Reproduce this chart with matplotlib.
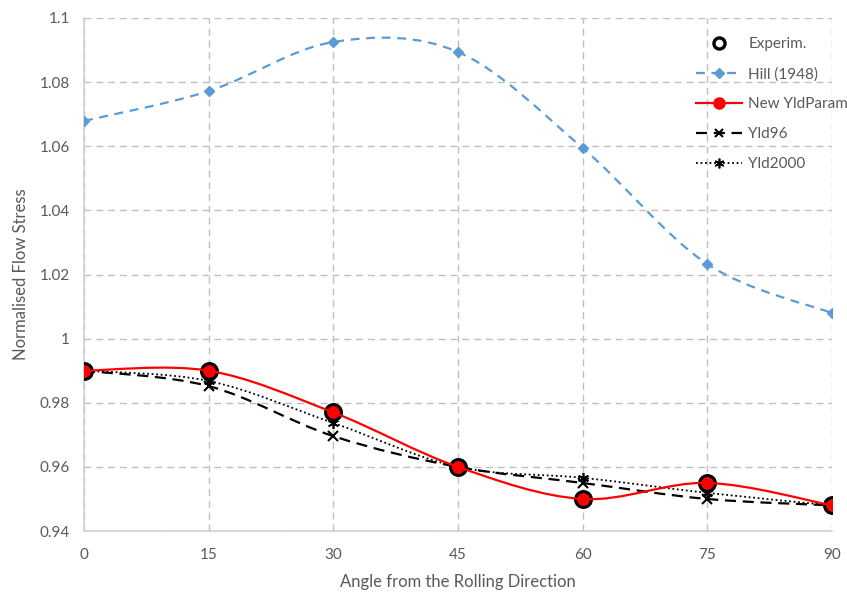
import numpy as np
import matplotlib
matplotlib.use("Agg")
import matplotlib.pyplot as plt
from matplotlib.path import Path
from matplotlib.patches import PathPatch
from matplotlib.lines import Line2D

plt.rcParams.update({
    "font.family": ["Lato", "DejaVu Sans"],
    "font.size": 11,
})

GREY = "#595959"
GRID = "#BFBFBF"
BLUE = "#5B9BD5"
RED = "#FF0000"

angles = [0, 15, 30, 45, 60, 75, 90]
experim = [0.990, 0.990, 0.977, 0.960, 0.950, 0.955, 0.948]
hill = [1.0679, 1.0772, 1.0925, 1.0894, 1.0595, 1.0233, 1.0080]
new_yld = [0.990, 0.990, 0.977, 0.960, 0.950, 0.955, 0.948]
yld96 = [0.990, 0.9852, 0.9696, 0.960, 0.955, 0.950, 0.948]
yld2000 = [0.990, 0.9868, 0.9737, 0.960, 0.9566, 0.9519, 0.948]


def smooth_path(x, y):
    # Excel-style smoothed line: cubic Bezier segments (Catmull-Rom tangents)
    p = np.column_stack([x, y]).astype(float)
    n = len(p)
    verts = [p[0]]
    codes = [Path.MOVETO]
    for i in range(n - 1):
        p0 = p[i - 1] if i > 0 else p[i]
        p3 = p[i + 2] if i + 2 < n else p[i + 1]
        c1 = p[i] + (p[i + 1] - p0) / 6.0
        c2 = p[i + 1] - (p3 - p[i]) / 6.0
        verts += [c1, c2, p[i + 1]]
        codes += [Path.CURVE4] * 3
    return Path(verts, codes)


fig = plt.figure(figsize=(8.47, 5.92), dpi=100)
ax = fig.add_axes([0.0992, 0.103, 0.8828, 0.8666])

ax.set_xlim(0, 90)
ax.set_ylim(0.94, 1.1)
ax.set_xticks(angles)
ax.set_yticks(np.arange(0.94, 1.1001, 0.02))
ax.set_yticklabels(["0.94", "0.96", "0.98", "1", "1.02", "1.04", "1.06", "1.08", "1.1"])
ax.grid(True, color=GRID, lw=1.0, ls=(0, (5, 3.5)))
ax.set_axisbelow(True)
for s in ["top", "right"]:
    ax.spines[s].set_visible(False)
for s in ["left", "bottom"]:
    ax.spines[s].set_color("#D0D0D0")
    ax.spines[s].set_linewidth(1.2)
ax.tick_params(length=0, colors=GREY, labelsize=11)
ax.tick_params(axis="x", pad=12)
ax.tick_params(axis="y", pad=10)

# Hill
ax.add_patch(PathPatch(smooth_path(angles, hill), fill=False, ec=BLUE, lw=1.6,
                       ls=(0, (4, 3)), zorder=2))
ax.plot(angles, hill, ls="none", marker="D", ms=5, color=BLUE, zorder=3)

# Yld96
ax.add_patch(PathPatch(smooth_path(angles, yld96), fill=False, ec="black", lw=1.6,
                       ls=(0, (5, 3)), zorder=2))
ax.plot(angles, yld96, ls="none", marker="x", ms=7, mew=1.5, color="black", zorder=3)

# Yld2000
ax.add_patch(PathPatch(smooth_path(angles, yld2000), fill=False, ec="black", lw=1.3,
                       ls=(0, (1, 1.5)), zorder=2))
ax.plot(angles, yld2000, ls="none", marker=(6, 2, 0), ms=8, mew=1.2, color="black", zorder=3)

# Experimental
ax.plot(angles, experim, ls="none", marker="o", ms=11, mfc="none", mec="black", mew=2.6, zorder=4)

# New YldParam
ax.add_patch(PathPatch(smooth_path(angles, new_yld), fill=False, ec=RED, lw=1.6, zorder=4))
ax.plot(angles, new_yld, ls="none", marker="o", ms=8, color=RED, zorder=5)

ax.set_xlabel("Angle from the Rolling Direction", color=GREY, fontsize=12, labelpad=9)
ax.set_ylabel("Normalised Flow Stress", color=GREY, fontsize=12, labelpad=8)

handles = [
    Line2D([], [], ls="none", marker="o", ms=8, mfc="none", mec="black", mew=2.4),
    Line2D([], [], color=BLUE, lw=1.6, ls=(0, (4, 3)), marker="D", ms=5),
    Line2D([], [], color=RED, lw=1.6, marker="o", ms=8),
    Line2D([], [], color="black", lw=1.6, ls=(0, (5, 3)), marker="x", ms=6, mew=1.5),
    Line2D([], [], color="black", lw=1.3, ls=(0, (1, 1.5)), marker=(6, 2, 0), ms=7, mew=1.2),
]
labels = ["Experim.", "Hill (1948)", "New YldParam", "Yld96", "Yld2000"]
leg = fig.legend(handles, labels, loc="upper left", bbox_to_anchor=(0.815, 0.948),
                 frameon=False, fontsize=11, labelspacing=1.05, handlelength=3.0,
                 handletextpad=0.4, borderaxespad=0)
for t in leg.get_texts():
    t.set_color(GREY)

fig.savefig("out.png", dpi=100)
